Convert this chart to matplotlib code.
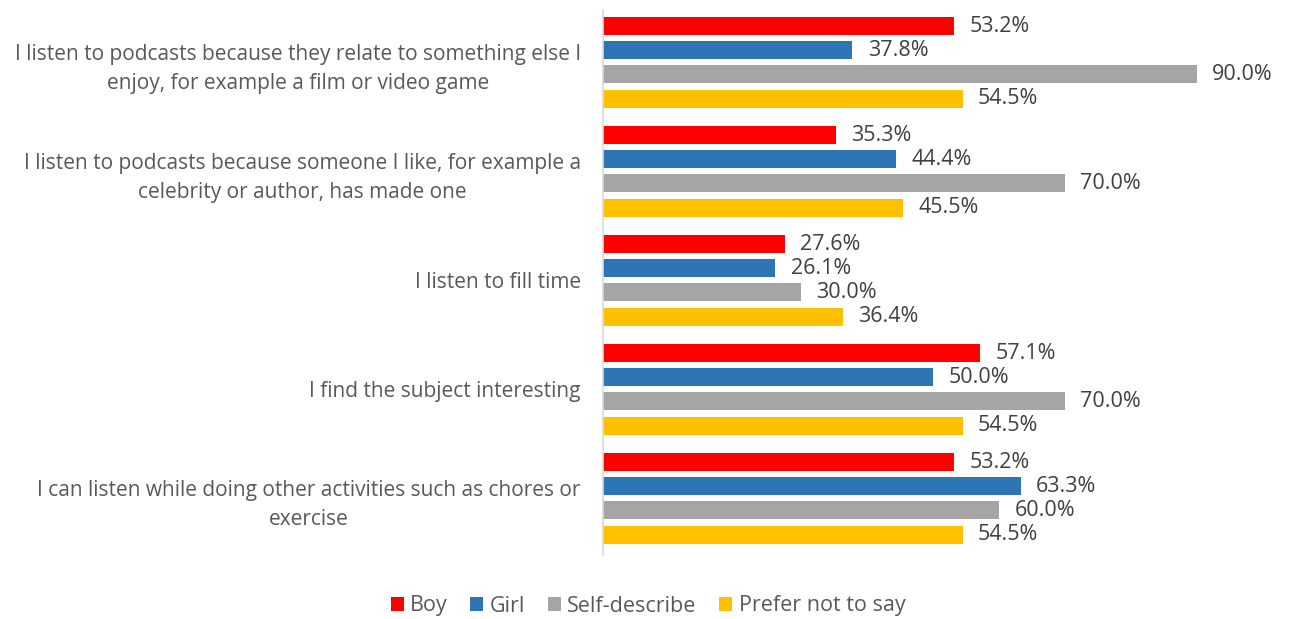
import matplotlib
matplotlib.use("Agg")
import matplotlib.pyplot as plt
from matplotlib.patches import Patch

plt.rcParams['font.family'] = ['Open Sans', 'DejaVu Sans']

categories = [
    "I listen to podcasts because they relate to something else I\nenjoy, for example a film or video game",
    "I listen to podcasts because someone I like, for example a\ncelebrity or author, has made one",
    "I listen to fill time",
    "I find the subject interesting",
    "I can listen while doing other activities such as chores or\nexercise",
]
series_names = ["Boy", "Girl", "Self-describe", "Prefer not to say"]
boy = [53.2, 35.3, 27.6, 57.1, 53.2]
girl = [37.8, 44.4, 26.1, 50.0, 63.3]
self_describe = [90.0, 70.0, 30.0, 70.0, 60.0]
prefer_not = [54.5, 45.5, 36.4, 54.5, 54.5]
colors = ["#FF0000", "#2E75B6", "#A5A5A5", "#FFC000"]

series = [boy, girl, self_describe, prefer_not]
FS_CAT = 15
FS_VAL = 15.5

fig = plt.figure(figsize=(12.92, 6.19), dpi=100)
ax = fig.add_axes([603 / 1292, 1 - 555 / 619, 660 / 1292, 545 / 619])

slot = 0.222
bar_h = 0.165
for k, (vals, col) in enumerate(zip(series, colors)):
    offset = (k - 1.5) * slot
    ys = [i + offset for i in range(len(categories))]
    ax.barh(ys, vals, height=bar_h, color=col, zorder=2)
    for y, v in zip(ys, vals):
        ax.annotate(f"{v:.1f}%", xy=(v, y), xytext=(11, 0), textcoords="offset points",
                    ha="left", va="center", fontsize=FS_VAL, color="#404040")

ax.set_xlim(0, 100)
ax.set_ylim(4.52, -0.48)
ax.set_yticks(range(len(categories)))
ax.set_yticklabels(categories, fontsize=FS_CAT, color="#595959", multialignment="center",
                   linespacing=1.5)
ax.tick_params(axis="y", length=0, pad=16)
ax.set_xticks([])
for s in ["top", "right", "bottom"]:
    ax.spines[s].set_visible(False)
ax.spines["left"].set_color("#D9D9D9")
ax.spines["left"].set_linewidth(1.2)

handles = [Patch(facecolor=c, edgecolor="none") for c in colors]
leg = fig.legend(handles, series_names, loc="center", bbox_to_anchor=(648 / 1292, 1 - 606 / 619),
                 ncol=4, frameon=False, fontsize=FS_VAL, handlelength=0.6, handleheight=0.6,
                 handletextpad=0.3, columnspacing=1.05)
for t in leg.get_texts():
    t.set_color("#595959")

fig.savefig("out.png", dpi=100)
